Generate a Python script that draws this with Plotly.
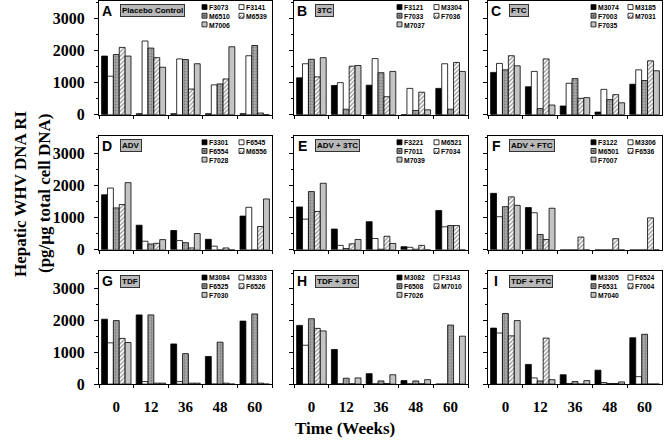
import plotly.graph_objects as go

W, H = 664, 447

weeks = ["0", "12", "36", "48", "60"]
panel_letters = ["A", "B", "C", "D", "E", "F", "G", "H", "I"]
panel_titles = ["Placebo Control", "3TC", "FTC", "ADV", "ADV + 3TC", "ADV + FTC",
                "TDF", "TDF + 3TC", "TDF + FTC"]

A_animals = ["F3073", "F3141", "M6510", "M6539", "M7006"]
A_values = [[1830, 30, 30, 30, 30],
            [1200, 2300, 1740, 930, 1840],
            [1880, 2080, 1720, 960, 2160],
            [2100, 1780, 800, 1115, 50],
            [1830, 1480, 1590, 2120, 0]]

B_animals = ["F3121", "M3304", "F7033", "F7036", "M7037"]
B_values = [[1150, 910, 920, 0, 820],
            [1590, 1000, 1750, 820, 1590],
            [1730, 170, 1310, 130, 170],
            [1180, 1515, 560, 700, 1630],
            [1780, 1535, 1350, 150, 1350]]

C_animals = ["M3074", "M3185", "F7003", "M7031", "F7035"]
C_values = [[1320, 870, 270, 80, 950],
            [1600, 1350, 980, 790, 1400],
            [1400, 190, 1125, 470, 1065],
            [1840, 1740, 510, 625, 1680],
            [1525, 300, 530, 370, 1370]]

D_animals = ["F3301", "F6545", "F6554", "M6556", "F7028"]
D_values = [[1720, 770, 605, 330, 1055],
            [1930, 270, 290, 115, 1330],
            [1310, 185, 225, 0, 0],
            [1415, 205, 60, 60, 730],
            [2100, 320, 510, 0, 1590]]

E_animals = ["F3221", "M6521", "F7011", "F7034", "M7039"]
E_values = [[1340, 650, 880, 100, 1230],
            [960, 140, 355, 80, 720],
            [1820, 40, 20, 20, 760],
            [1200, 190, 425, 140, 760],
            [2080, 325, 200, 0, 0]]

F_animals = ["F3122", "M3306", "M6501", "F6536", "F7007"]
F_values = [[1765, 1320, 0, 0, 0],
            [1035, 1160, 0, 0, 0],
            [1350, 480, 0, 0, 0],
            [1655, 325, 400, 350, 1000],
            [1390, 1300, 0, 0, 0]]

G_animals = ["M3084", "M3303", "F6525", "F6526", "F7030"]
G_values = [[2045, 2180, 1265, 870, 1985],
            [1300, 80, 80, 0, 0],
            [2000, 2180, 960, 1320, 2210],
            [1440, 30, 30, 30, 30],
            [1310, 30, 30, 0, 0]]

H_animals = ["M3082", "F3143", "F6508", "M7010", "F7026"]
H_values = [[1850, 1090, 330, 110, 0],
            [1225, 10, 10, 10, 0],
            [2060, 185, 100, 100, 1860],
            [1755, 10, 20, 10, 10],
            [1675, 195, 295, 140, 1510]]

I_animals = ["M3305", "F6524", "F6531", "F7004", "M7040"]
I_values = [[1765, 620, 295, 440, 1460],
            [1610, 195, 20, 50, 235],
            [2225, 100, 80, 20, 1570],
            [1520, 1450, 0, 20, 0],
            [2000, 140, 110, 70, 0]]

y_ticks = [0, 1000, 2000, 3000]

all_animals = [A_animals, B_animals, C_animals, D_animals, E_animals,
               F_animals, G_animals, H_animals, I_animals]
all_values = [A_values, B_values, C_values, D_values, E_values,
              F_values, G_values, H_values, I_values]

# ---- styling -------------------------------------------------------------
SERIF = "Liberation Serif"
SANS = "Liberation Sans"

styles = [
    dict(color="black", pattern=dict(shape="")),
    dict(color="white", pattern=dict(shape="")),
    dict(color="#9a9a9a", pattern=dict(shape=".", fgcolor="#4a4a4a", bgcolor="#a8a8a8",
                                       size=3, solidity=0.3)),
    dict(color="white", pattern=dict(shape="/", fgcolor="#222222", bgcolor="white",
                                     size=3, solidity=0.4)),
    dict(color="#c4c4c4", pattern=dict(shape="")),
]
swatch_fill = ["black", "white", "#9a9a9a", "white", "#c4c4c4"]

col_x = [(99, 272), (294, 468), (488, 662)]
row_y = [(1, 117), (139, 255), (277, 392)]

LEG_FONT = 6.8
LEG_TOP = 1.8
LEG_ROW = 1.3 * LEG_FONT   # plotly line spacing

fig = go.Figure()
shapes = []
annotations = []

for p in range(9):
    r, c = divmod(p, 3)
    idx = "" if p == 0 else str(p + 1)
    xa, ya = "x" + idx, "y" + idx
    x0, x1 = col_x[c]
    y0, y1 = row_y[r]
    for s in range(5):
        st = styles[s]
        fig.add_trace(go.Bar(
            x=weeks, y=all_values[p][s], name=all_animals[p][s],
            xaxis=xa, yaxis=ya, showlegend=False,
            marker=dict(color=st["color"], pattern=st["pattern"],
                        line=dict(color="black", width=0.8)),
        ))
    fig.layout["xaxis" + idx] = dict(
        domain=[x0 / W, x1 / W], anchor=ya, type="category",
        range=[-0.5, 4.5], showline=True, linecolor="black", linewidth=1,
        mirror=True, ticks="outside", ticklen=3, tickcolor="black",
        tickson="boundaries", showgrid=False, zeroline=False,
        showticklabels=(r == 2), ticklabelstandoff=9,
        tickfont=dict(family=SERIF, size=15, color="black", weight="bold"),
    )
    fig.layout["yaxis" + idx] = dict(
        domain=[1 - y1 / H, 1 - y0 / H], anchor=xa, range=[0, 3550],
        tickvals=y_ticks, ticks="outside", ticklen=4, tickcolor="black",
        minor=dict(dtick=500, tick0=0, ticks="outside", ticklen=2, tickcolor="black"),
        showline=True, linecolor="black", linewidth=1, mirror=True,
        showgrid=False, zeroline=False, showticklabels=(c == 0),
        ticklabelstandoff=6,
        tickfont=dict(family=SERIF, size=16, color="black", weight="bold"),
    )

    # panel letter
    annotations.append(dict(
        x=(x0 + 8) / W, y=1 - (y0 + 10) / H, xref="paper", yref="paper",
        text=panel_letters[p], showarrow=False, xanchor="center", yanchor="middle",
        font=dict(family=SANS, size=14, color="black", weight="bold")))
    # boxed treatment label
    annotations.append(dict(
        x=(x0 + 21) / W, y=1 - (y0 + 10) / H, xref="paper", yref="paper",
        text=panel_titles[p], showarrow=False, xanchor="left", yanchor="middle",
        bgcolor="#b8b8b8", bordercolor="#333333", borderwidth=1, borderpad=1,
        font=dict(family=SANS, size=8, color="black", weight="bold")))

    # legend: swatches as shapes, names as one text block per column
    pos = [(0, 0), (1, 0), (0, 1), (1, 1), (0, 2)]
    for s in range(5):
        cc, rr = pos[s]
        sx = x0 + (103 if cc == 0 else 140)
        sy = y0 + LEG_TOP + (rr + 0.5) * LEG_ROW
        shapes.append(dict(type="rect", xref="paper", yref="paper",
                           x0=sx / W, x1=(sx + 5) / W,
                           y0=1 - (sy + 2.5) / H, y1=1 - (sy - 2.5) / H,
                           fillcolor=swatch_fill[s],
                           line=dict(color="black", width=0.8)))
        if s == 3:
            for k in (0, 2.5):
                shapes.append(dict(type="line", xref="paper", yref="paper",
                                   x0=(sx + k) / W, x1=(sx + k + 2.5) / W,
                                   y0=1 - (sy + 2.5) / H, y1=1 - sy / H,
                                   line=dict(color="black", width=0.7)))
        if s == 2:
            shapes.append(dict(type="rect", xref="paper", yref="paper",
                               x0=(sx + 1.5) / W, x1=(sx + 3.5) / W,
                               y0=1 - (sy + 1) / H, y1=1 - (sy - 1) / H,
                               fillcolor="#555555", line=dict(width=0)))
    for cc, members in ((0, [0, 2, 4]), (1, [1, 3])):
        sx = x0 + (103 if cc == 0 else 140)
        annotations.append(dict(
            x=(sx + 5.5) / W, y=1 - (y0 + LEG_TOP) / H, xref="paper", yref="paper",
            text="<br>".join(all_animals[p][m] for m in members),
            showarrow=False, xanchor="left", yanchor="top", align="left",
            borderpad=0,
            font=dict(family=SANS, size=LEG_FONT, color="black", weight="bold")))

# axis titles
annotations.append(dict(
    x=20 / W, y=1 - 198 / H, xref="paper", yref="paper", text="Hepatic WHV DNA RI",
    textangle=-90, showarrow=False, xanchor="center", yanchor="middle",
    font=dict(family=SERIF, size=17, color="black", weight="bold")))
annotations.append(dict(
    x=44 / W, y=1 - 198 / H, xref="paper", yref="paper", text="(pg/µg total cell DNA)",
    textangle=-90, showarrow=False, xanchor="center", yanchor="middle",
    font=dict(family=SERIF, size=17, color="black", weight="bold")))
annotations.append(dict(
    x=345 / W, y=1 - 437 / H, xref="paper", yref="paper", text="Time (Weeks)",
    showarrow=False, xanchor="center", yanchor="middle",
    font=dict(family=SERIF, size=17, color="black", weight="bold")))

fig.update_layout(
    width=W, height=H, margin=dict(l=0, r=0, t=0, b=0),
    paper_bgcolor="white", plot_bgcolor="white",
    barmode="group", bargap=0.15, bargroupgap=0,
    shapes=shapes, annotations=annotations, showlegend=False,
)

fig.write_html("out.html", config={"displayModeBar": False},
               post_script="document.body.style.margin='0';document.body.style.overflow='hidden';")
